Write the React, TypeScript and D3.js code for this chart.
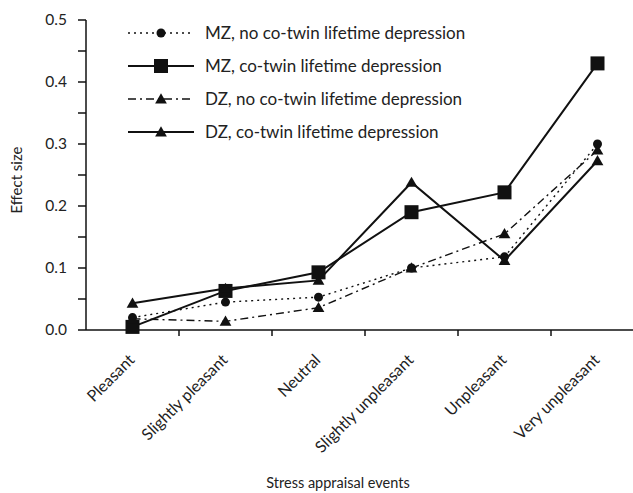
import * as d3 from "d3";
import { useRef, useEffect } from "react";

const categories = [
  "Pleasant",
  "Slightly pleasant",
  "Neutral",
  "Slightly unpleasant",
  "Unpleasant",
  "Very unpleasant",
];

const mzNoDep = [0.02, 0.045, 0.053, 0.1, 0.118, 0.3];
const mzDep = [0.005, 0.063, 0.093, 0.19, 0.222, 0.43];
const dzNoDep = [0.018, 0.014, 0.036, 0.1, 0.155, 0.29];
const dzDep = [0.043, 0.067, 0.08, 0.238, 0.112, 0.273];

const yTicks = [0, 0.1, 0.2, 0.3, 0.4, 0.5];
const yMinor = [0.05, 0.15, 0.25, 0.35, 0.45];

const series = [
  { label: "MZ, no co-twin lifetime depression", values: mzNoDep, dash: "2,4", width: 1.4, marker: "circle" },
  { label: "MZ, co-twin lifetime depression", values: mzDep, dash: null, width: 2, marker: "square" },
  { label: "DZ, no co-twin lifetime depression", values: dzNoDep, dash: "8,4,2,4", width: 1.4, marker: "triangle" },
  { label: "DZ, co-twin lifetime depression", values: dzDep, dash: null, width: 2, marker: "triangle" },
];

const FONT = "Lato, 'Open Sans', sans-serif";

export default function App() {
  const ref = useRef(null);

  useEffect(() => {
    const width = 633;
    const height = 493;
    const left = 86;
    const bottom = 330;
    const top = 20;

    const svg = d3.select(ref.current);
    svg.selectAll("*").remove();
    svg.attr("width", width).attr("height", height);

    const x = d3.scaleBand().domain(categories).range([left, left + 93 * 6]);
    const y = d3.scaleLinear().domain([0, 0.5]).range([bottom, top]);
    const cx = (i) => x(categories[i]) + x.bandwidth() / 2;

    const ink = "#111";

    // y axis
    svg.append("line")
      .attr("x1", left).attr("x2", left).attr("y1", top).attr("y2", bottom)
      .attr("stroke", ink).attr("stroke-width", 1.5);
    svg.selectAll(".yt")
      .data(yTicks.concat(yMinor))
      .enter()
      .append("line")
      .attr("x1", left - 8).attr("x2", left)
      .attr("y1", d => y(d)).attr("y2", d => y(d))
      .attr("stroke", ink).attr("stroke-width", 1.5);
    svg.selectAll(".yl")
      .data(yTicks)
      .enter()
      .append("text")
      .attr("x", left - 19)
      .attr("y", d => y(d))
      .attr("dy", "0.35em")
      .attr("text-anchor", "end")
      .style("font-family", FONT)
      .style("font-size", "15.5px")
      .attr("fill", "#222")
      .text(d => d.toFixed(1));

    // x axis
    svg.append("line")
      .attr("x1", left).attr("x2", width).attr("y1", bottom).attr("y2", bottom)
      .attr("stroke", ink).attr("stroke-width", 1.5);
    svg.selectAll(".xt")
      .data(categories.slice(1))
      .enter()
      .append("line")
      .attr("x1", d => x(d)).attr("x2", d => x(d))
      .attr("y1", bottom).attr("y2", bottom + 6)
      .attr("stroke", ink).attr("stroke-width", 1.5);
    svg.selectAll(".xl")
      .data(categories)
      .enter()
      .append("text")
      .attr("transform", (d, i) => `translate(${cx(i) + 3}, ${bottom + 31}) rotate(-45)`)
      .attr("text-anchor", "end")
      .style("font-family", FONT)
      .style("font-size", "16px")
      .attr("fill", "#222")
      .text(d => d);

    // axis titles
    svg.append("text")
      .attr("transform", `translate(22, 180) rotate(-90)`)
      .attr("text-anchor", "middle")
      .style("font-family", FONT)
      .style("font-size", "15px")
      .attr("fill", "#222")
      .text("Effect size");
    svg.append("text")
      .attr("x", 338).attr("y", 488)
      .attr("text-anchor", "middle")
      .style("font-family", FONT)
      .style("font-size", "14.5px")
      .attr("fill", "#222")
      .text("Stress appraisal events");

    const drawMarker = (g, type, px, py) => {
      if (type === "circle") {
        g.append("circle").attr("cx", px).attr("cy", py).attr("r", 4.5).attr("fill", ink);
      } else if (type === "square") {
        g.append("rect").attr("x", px - 7).attr("y", py - 7).attr("width", 14).attr("height", 14).attr("fill", ink);
      } else {
        const sym = d3.symbol().type(d3.symbolTriangle).size(60);
        g.append("path").attr("transform", `translate(${px}, ${py + 1})`).attr("d", sym()).attr("fill", ink);
      }
    };

    const line = d3.line().x((d, i) => cx(i)).y(d => y(d));

    series.forEach(s => {
      const g = svg.append("g");
      g.append("path")
        .attr("d", line(s.values))
        .attr("fill", "none")
        .attr("stroke", ink)
        .attr("stroke-width", s.width)
        .attr("stroke-dasharray", s.dash);
      s.values.forEach((v, i) => drawMarker(g, s.marker, cx(i), y(v)));
    });

    // legend
    series.forEach((s, i) => {
      const ly = 33 + i * 33;
      const g = svg.append("g");
      g.append("line")
        .attr("x1", 128).attr("x2", 194).attr("y1", ly).attr("y2", ly)
        .attr("stroke", ink)
        .attr("stroke-width", s.width)
        .attr("stroke-dasharray", s.dash);
      drawMarker(g, s.marker, 161, ly);
      g.append("text")
        .attr("x", 205).attr("y", ly)
        .attr("dy", "0.35em")
        .style("font-family", FONT)
        .style("font-size", "17px")
        .attr("fill", "#222")
        .text(s.label);
    });
  }, []);

  return <svg ref={ref} style={{ position: "absolute", left: 0, top: 0 }}></svg>;
}
